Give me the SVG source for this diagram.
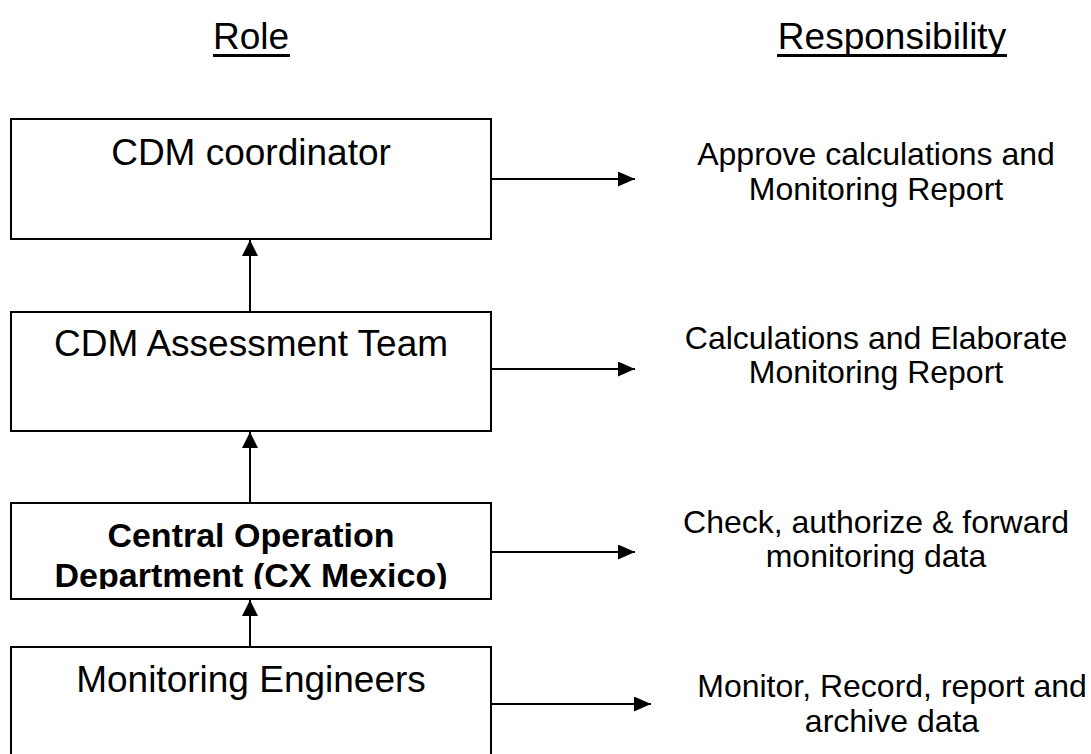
<svg xmlns="http://www.w3.org/2000/svg" width="1091" height="754" viewBox="0 0 1091 754">
<style>
  text { font-family: "Liberation Sans", Arial, sans-serif; fill: #000; }
  .hdr { font-size: 37px; text-anchor: middle; }
  .role { font-size: 37px; text-anchor: middle; }
  .bold { font-size: 34px; font-weight: bold; text-anchor: middle; }
  .resp { font-size: 32px; text-anchor: middle; }
  .box { fill: #fff; stroke: #000; stroke-width: 2; }
  .conn { stroke: #000; stroke-width: 2; fill: none; }
  .ul { stroke: #000; stroke-width: 3; }
</style>
<defs>
  <marker id="ahv" viewBox="0 0 10 10" refX="10" refY="5" markerWidth="16" markerHeight="16" markerUnits="userSpaceOnUse" orient="auto">
    <path d="M0,0 L10,5 L0,10 Z" fill="#000"/>
  </marker>
  <marker id="ahh" viewBox="0 0 10 10" refX="10" refY="5" markerWidth="17" markerHeight="15" markerUnits="userSpaceOnUse" orient="auto" preserveAspectRatio="none">
    <path d="M0,0 L10,5 L0,10 Z" fill="#000"/>
  </marker>
  <clipPath id="clip3"><rect x="11" y="503" width="480" height="86"/></clipPath>
</defs>

<g id="headers">
  <text class="hdr" x="251" y="49">Role</text>
  <line class="ul" x1="213" y1="55.5" x2="290" y2="55.5"/>
  <text class="hdr" x="892" y="49">Responsibility</text>
  <line class="ul" x1="777" y1="55.5" x2="1007" y2="55.5"/>
</g>

<g id="connectors">
  <line class="conn" x1="250" y1="312" x2="250" y2="240" marker-end="url(#ahv)"/>
  <line class="conn" x1="250" y1="503" x2="250" y2="432" marker-end="url(#ahv)"/>
  <line class="conn" x1="250" y1="647" x2="250" y2="600" marker-end="url(#ahv)"/>
  <line class="conn" x1="491" y1="179" x2="635" y2="179" stroke-width="1.5" marker-end="url(#ahh)"/>
  <line class="conn" x1="491" y1="369" x2="635" y2="369" stroke-width="1.5" marker-end="url(#ahh)"/>
  <line class="conn" x1="491" y1="552" x2="635" y2="552" stroke-width="1.5" marker-end="url(#ahh)"/>
  <line class="conn" x1="491" y1="704" x2="651" y2="704" stroke-width="1.5" marker-end="url(#ahh)"/>
</g>

<g id="cdm-coordinator">
  <rect class="box" x="11" y="119" width="480" height="120"/>
  <text class="role" x="251" y="165">CDM coordinator</text>
</g>

<g id="cdm-assessment-team">
  <rect class="box" x="11" y="312" width="480" height="119"/>
  <text class="role" x="251" y="356">CDM Assessment Team</text>
</g>

<g id="central-operation">
  <rect class="box" x="11" y="503" width="480" height="96"/>
  <g clip-path="url(#clip3)">
    <text class="bold" x="251" y="547">Central Operation</text>
    <text class="bold" x="251" y="587">Department (CX Mexico)</text>
  </g>
</g>

<g id="monitoring-engineers">
  <rect class="box" x="11" y="647" width="480" height="120"/>
  <text class="role" x="251" y="692">Monitoring Engineers</text>
</g>

<g id="responsibilities">
  <text class="resp" x="876" y="165">Approve calculations and</text>
  <text class="resp" x="876" y="200">Monitoring Report</text>
  <text class="resp" x="876" y="349">Calculations and Elaborate</text>
  <text class="resp" x="876" y="383">Monitoring Report</text>
  <text class="resp" x="876" y="533">Check, authorize &amp; forward</text>
  <text class="resp" x="876" y="567">monitoring data</text>
  <text class="resp" x="892" y="697">Monitor, Record, report and</text>
  <text class="resp" x="892" y="732">archive data</text>
</g>
</svg>
